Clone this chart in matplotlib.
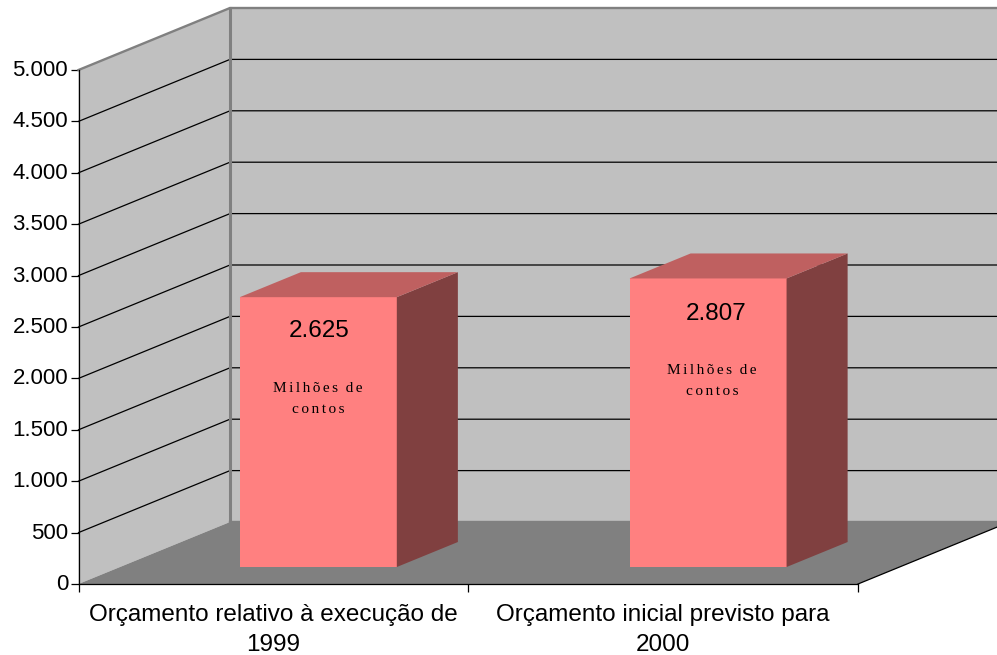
import matplotlib
matplotlib.use("Agg")
import matplotlib.pyplot as plt
from matplotlib.patches import Polygon
from matplotlib.transforms import ScaledTranslation

plt.rcParams["font.family"] = ["Liberation Sans", "DejaVu Sans"]

# ----------------------------
# Data
# ----------------------------
categories = ["Orçamento relativo à execução de\n1999", "Orçamento inicial previsto para\n2000"]
values = [2625, 2807]
value_labels = ["2.625", "2.807"]
y_ticks = [0, 500, 1000, 1500, 2000, 2500, 3000, 3500, 4000, 4500, 5000]
y_labels = ["0", "500", "1.000", "1.500", "2.000", "2.500", "3.000", "3.500", "4.000", "4.500", "5.000"]
# hair spaces give the wide letter spacing of the unit note
hs = "\u200a\u200a"
unit_text = hs.join("Milhões") + "  " + hs.join("de") + "\n" + hs.join("contos")

# ----------------------------
# Layout (pixels of the 997x655 canvas)
# ----------------------------
W, H = 997, 655
left, right, bottom, top = 78.5, 858, 584, 70

WALL = "#c0c0c0"
FLOOR = "#808080"
FRONT = "#ff8080"
ROOF = "#bf6060"
SIDE = "#804040"

fig = plt.figure(figsize=(W / 100, H / 100), dpi=100)
ax = fig.add_axes([left / W, 1 - bottom / H, (right - left) / W, (bottom - top) / H])
ax.set_xlim(0, 2)
ax.set_ylim(0, 5000)
ax.patch.set_visible(False)

# oblique depth, in data units
depth_x = 151.5 / ((right - left) / 2)
depth_y = 62 / ((bottom - top) / 5000)


def project(x, y, d):
    # d = 0 front of the box, d = 1 back wall
    return (x + d * depth_x, y + d * depth_y)


def poly(points, color, z, edge=None, lw=0):
    ax.add_patch(Polygon(points, closed=True, facecolor=color, edgecolor=edge or color,
                         linewidth=lw, clip_on=False, zorder=z))


# ----------------------------
# Walls and floor
# ----------------------------
poly([project(0, 0, 0), project(0, 5000, 0), project(0, 5000, 1), project(0, 0, 1)], WALL, 1)
poly([project(0, 0, 1), project(0, 5000, 1), project(2, 5000, 1), project(2, 0, 1)], WALL, 1)
poly([project(0, 0, 0), project(2, 0, 0), project(2, 0, 1), project(0, 0, 1)], FLOOR, 1)

for t in y_ticks[1:-1]:
    xs, ys = zip(project(0, t, 0), project(0, t, 1), project(2, t, 1))
    ax.plot(xs, ys, color="black", lw=0.9, clip_on=False, zorder=2)

# grey frame of the walls
xs, ys = zip(project(0, 5000, 0), project(0, 5000, 1), project(2, 5000, 1))
ax.plot(xs, ys, color=FLOOR, lw=1.7, clip_on=False, zorder=3)
xs, ys = zip(project(0, 0, 1), project(0, 5000, 1))
ax.plot(xs, ys, color=FLOOR, lw=2.2, clip_on=False, zorder=3)
xs, ys = zip(project(0, 0, 1), project(2, 0, 1))
ax.plot(xs, ys, color=FLOOR, lw=1.7, clip_on=False, zorder=3)
xs, ys = zip(project(2, 0, 0), project(2, 0, 1))
ax.plot(xs, ys, color="black", lw=0.9, clip_on=False, zorder=3)

# ----------------------------
# Bars
# ----------------------------
gap = 119.8 / ((right - left) / 2)
bar_w = 157 / ((right - left) / 2)
d0, d1 = 0.274, 0.677

for i, v in enumerate(values):
    x0 = i + gap
    x1 = x0 + bar_w
    poly([project(x0, 0, d0), project(x1, 0, d0), project(x1, v, d0), project(x0, v, d0)], FRONT, 4)
    poly([project(x1, 0, d0), project(x1, 0, d1), project(x1, v, d1), project(x1, v, d0)], SIDE, 4)
    poly([project(x0, v, d0), project(x1, v, d0), project(x1, v, d1), project(x0, v, d1)], ROOF, 4)

# labels sit inside the bars, placed by hand
ax.annotate(value_labels[0], (319, H - 331), xycoords="figure pixels", ha="center", va="center",
            fontsize=17.5, zorder=5)
ax.annotate(value_labels[1], (716.5, H - 314), xycoords="figure pixels", ha="center", va="center",
            fontsize=17.5, zorder=5)
ax.annotate(unit_text, (318, H - 399), xycoords="figure pixels", ha="center", va="center",
            fontsize=11, family=["Liberation Serif", "DejaVu Serif"], linespacing=1.85, zorder=5)
ax.annotate(unit_text, (712, H - 381), xycoords="figure pixels", ha="center", va="center",
            fontsize=11, family=["Liberation Serif", "DejaVu Serif"], linespacing=1.85, zorder=5)

# ----------------------------
# Axes
# ----------------------------
for s in ["top", "right"]:
    ax.spines[s].set_visible(False)
for s in ["left", "bottom"]:
    ax.spines[s].set_linewidth(0.9)
    ax.spines[s].set_zorder(6)

ax.set_yticks(y_ticks)
ax.set_yticklabels(y_labels, fontsize=16)
ax.tick_params(axis="y", length=5.5, width=0.9, pad=2)
# tick labels ride about 2 px above their ticks
shift = ScaledTranslation(0, 2 / 100, fig.dpi_scale_trans)
for lab in ax.get_yticklabels():
    lab.set_transform(lab.get_transform() + shift)

ax.set_xticks([0, 1, 2])
ax.set_xticklabels([])
ax.tick_params(axis="x", which="major", length=5.5, width=0.9)
ax.set_xticks([0.5, 1.5], minor=True)
ax.set_xticklabels(categories, minor=True, fontsize=17.5, linespacing=1.46)
ax.tick_params(axis="x", which="minor", length=0, pad=14.5)

fig.savefig("out.png", dpi=100)
